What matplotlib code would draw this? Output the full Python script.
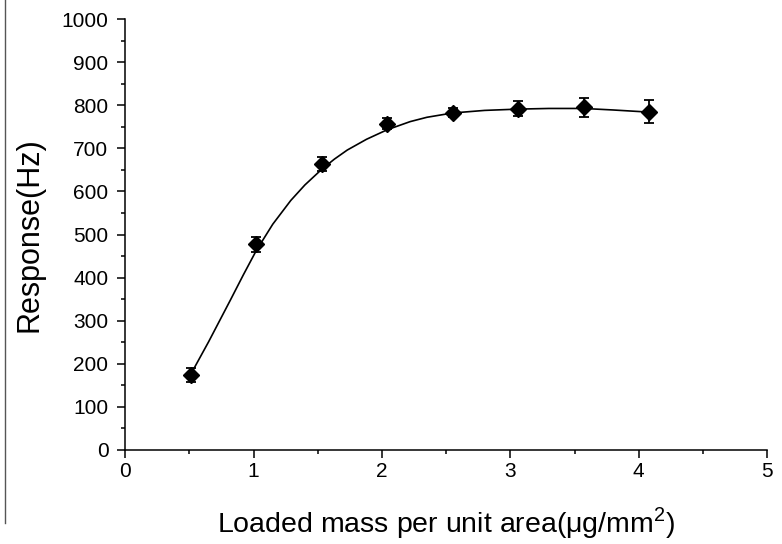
import numpy as np
import matplotlib
matplotlib.use('Agg')
import matplotlib.pyplot as plt
from matplotlib.lines import Line2D
from matplotlib.ticker import MultipleLocator

## measured points (mass per area, response, error)
mass = [0.51, 1.02, 1.53, 2.04, 2.55, 3.06, 3.57, 4.08]
response = [174, 477, 664, 757, 783, 792, 795, 785]
err = [16, 17, 17, 13, 11, 18, 22, 27]

## fitted curve
fit_x = [0.51, 0.65, 0.82, 0.92, 1.02, 1.15, 1.29, 1.40, 1.53, 1.63, 1.73,
         1.88, 2.04, 2.22, 2.35, 2.55, 2.80, 3.06, 3.30, 3.57, 3.80, 4.08]
fit_y = [175, 251, 348, 406, 462, 524, 579, 615, 651, 675, 696,
         721, 743, 762, 772, 782, 788, 791, 792.5, 792.5, 789, 784]

plt.rcParams['font.family'] = ['Liberation Sans', 'DejaVu Sans']

fig = plt.figure(figsize=(7.82, 5.44), dpi=100)
ax = fig.add_axes([0.160, 0.1728, 0.821, 0.7922])

ax.plot(fit_x, fit_y, color='black', lw=1.2)
ax.errorbar(mass, response, yerr=err, fmt='D', color='black', ms=8.5,
            ecolor='black', elinewidth=1.3, capsize=3.5, capthick=1.3)

ax.set_xlim(0, 5)
ax.set_ylim(0, 1000)
ax.xaxis.set_major_locator(MultipleLocator(1))
ax.xaxis.set_minor_locator(MultipleLocator(0.5))
ax.yaxis.set_major_locator(MultipleLocator(100))
ax.yaxis.set_minor_locator(MultipleLocator(50))

for side in ['top', 'right']:
    ax.spines[side].set_visible(False)
for side in ['left', 'bottom']:
    ax.spines[side].set_linewidth(1.1)

ax.tick_params(which='major', direction='out', length=6, width=1.1, labelsize=15)
ax.tick_params(which='minor', direction='out', length=3, width=1.1)
ax.tick_params(axis='x', pad=3)
ax.tick_params(axis='y', pad=6)

ax.set_xlabel('Loaded mass per unit area($\\mathregular{\\mu}$g/mm$^\\mathregular{2}$)', fontsize=20.5)
ax.xaxis.set_label_coords(0.5, -0.128)
ax.xaxis.label.set_va('top')
ax.set_ylabel('Response(Hz)', fontsize=22)
ax.yaxis.set_label_coords(-0.126, 0.5)

## thin border line at the left edge of the image
fig.add_artist(Line2D([5/782, 5/782], [1 - 523/544, 1.0], color='#555555', lw=1.0))

fig.savefig('out.png', dpi=100)
